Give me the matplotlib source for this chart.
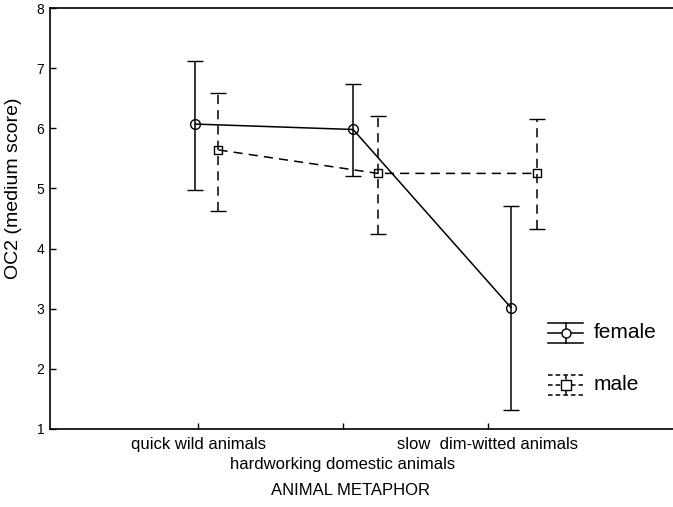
import numpy as np
import matplotlib
matplotlib.use("Agg")
import matplotlib.pyplot as plt

plt.rcParams['font.family'] = ['Liberation Sans', 'DejaVu Sans']

# categories on the x axis
categories = ['quick wild animals', 'hardworking domestic animals', 'slow  dim-witted animals']
cat_pos = [1, 2, 3]

# point positions (plotted slightly shifted from the ticks, as in the original)
female_x = [0.98, 2.07, 3.16]
male_x = [1.14, 2.24, 3.34]

# means and interval ends
female_mean = [6.07, 5.98, 3.02]
female_hi = [7.12, 6.74, 4.71]
female_lo = [4.98, 5.21, 1.31]

male_mean = [5.64, 5.25, 5.25]
male_hi = [6.59, 6.21, 6.15]
male_lo = [4.63, 4.25, 4.32]

fig = plt.figure(figsize=(6.73, 5.07), dpi=100)
ax = fig.add_axes([50/673, 78/507, 623/673, 421/507])

f_mean = np.array(female_mean)
m_mean = np.array(male_mean)
f_err = [f_mean - np.array(female_lo), np.array(female_hi) - f_mean]
m_err = [m_mean - np.array(male_lo), np.array(male_hi) - m_mean]

lw = 1.1
eb = ax.errorbar(female_x, female_mean, yerr=f_err, color='black', lw=lw,
                 marker='o', ms=7, mfc='none', mec='black', mew=1.0,
                 capsize=6, capthick=lw, elinewidth=lw)

eb2 = ax.errorbar(male_x, male_mean, yerr=m_err, color='black', lw=lw,
                  marker='s', ms=6, mfc='none', mec='black', mew=1.0,
                  capsize=6, capthick=lw, elinewidth=lw, ls=(0, (6, 4)))
for lc in eb2[2]:
    lc.set_linestyle((0, (6, 4)))

ax.set_xlim(-0.024, 4.28)
ax.set_ylim(1, 8)
ax.set_yticks(range(1, 9))
ax.set_xticks(cat_pos)
ax.set_xticklabels(categories, fontsize=12)
ax.tick_params(axis='both', direction='in', length=4, width=1)
ax.tick_params(axis='y', labelsize=10, pad=4)
ax.tick_params(axis='x', pad=6)
# middle label sits one row lower
ax.xaxis.get_major_ticks()[1].set_pad(20)
for s in ['left', 'bottom', 'top']:
    ax.spines[s].set_linewidth(1.2)
ax.spines['right'].set_visible(False)

ax.set_ylabel('OC2 (medium score)', fontsize=14)
ax.yaxis.set_label_coords(-0.045, 0.572)
ax.set_xlabel('ANIMAL METAPHOR', fontsize=12)
ax.xaxis.set_label_coords(0.483, -0.128)

# hand-drawn legend symbols (error bar style)
def legend_symbol(yc, ls, marker, label):
    x0, x1 = 548, 583
    xm = (x0 + x1) / 2
    d = 10
    tr = fig.dpi_scale_trans
    def px(x, y):
        return x / 100, (507 - y) / 100
    segs = [((x0, yc - d), (x1, yc - d)), ((x0, yc + d), (x1, yc + d)),
            ((x0, yc), (xm - 5, yc)), ((xm + 5, yc), (x1, yc)),
            ((xm, yc - d), (xm, yc + d))]
    for p, q in segs:
        a = px(*p); b = px(*q)
        fig.add_artist(plt.Line2D([a[0], b[0]], [a[1], b[1]], transform=tr,
                                  color='black', lw=lw, ls=ls))
    c = px(xm, yc)
    fig.add_artist(plt.Line2D([c[0]], [c[1]], transform=tr, marker=marker, ms=6.5,
                              mfc='white', mec='black', mew=1.0))
    t = px(594, yc)
    fig.text(t[0] / 6.73, t[1] / 5.07, label, fontsize=15, va='center', ha='left')

legend_symbol(333, '-', 'o', 'female')
legend_symbol(385, (0, (3, 2)), 's', 'male')

fig.savefig('out.png', dpi=100)
